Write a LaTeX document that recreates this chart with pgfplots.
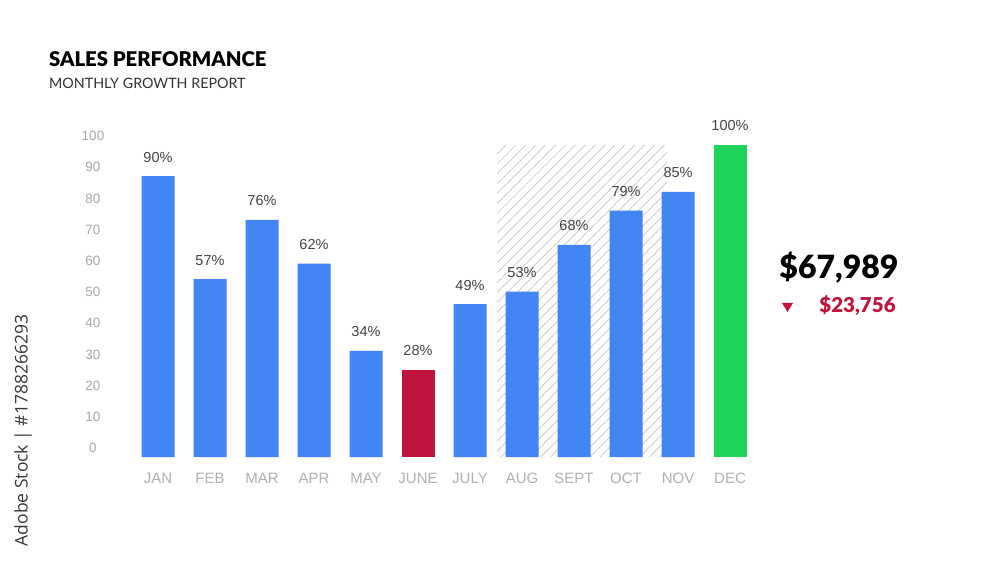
\documentclass[border=0pt]{standalone}
\usepackage{fontspec}
\setmainfont{Liberation Sans}
\IfFontExistsTF{Lato Black}{\newfontfamily\titlefont{Lato Black}}{\newfontfamily\titlefont{Lato}[UprightFont=*-Bold]}
\newfontfamily\subfont{Lato}
\newfontfamily\wmfont{Open Sans}
\usepackage{pgfplots}
\pgfplotsset{compat=1.18}
\usetikzlibrary{patterns.meta}
\definecolor{cblue}{HTML}{4285F4}
\definecolor{cred}{HTML}{C0143C}
\definecolor{cgreen}{HTML}{1ED45A}
\definecolor{tickgray}{HTML}{A8A8A8}
\definecolor{monthgray}{HTML}{B0B0B0}
\definecolor{pctgray}{HTML}{444444}
\begin{document}
\begin{tikzpicture}[x=1pt,y=1pt]
\path[use as bounding box, fill=white] (0,0) rectangle (1000,562);
\begin{axis}[
  at={(93pt,105pt)}, anchor=south west,
  scale only axis, width=663pt, height=312pt,
  xmin=-1.25, xmax=11.5, ymin=0, ymax=100,
  axis lines=none, clip=false,
  /pgf/number format/assume math mode=true,
  xtick={0,...,11},
  xticklabels={JAN,FEB,MAR,APR,MAY,JUNE,JULY,AUG,SEPT,OCT,NOV,DEC},
  ytick={0,10,...,100},
  hide x axis=false, hide y axis=false,
  axis line style={draw=none},
  major tick length=0pt,
  xticklabel style={anchor=center, yshift=-21pt, font=\fontsize{15}{17}\selectfont, text=monthgray},
  yticklabel style={anchor=center, yshift=9pt, font=\fontsize{13.5}{15}\selectfont, text=tickgray},
  every node near coord/.style={anchor=center, yshift=19pt, font=\fontsize{14.5}{16}\selectfont, text=pctgray},
  nodes near coords={\pgfmathprintnumber{\pgfplotspointmeta}\%},
]
\addplot[draw=none, pattern={Lines[angle=45, distance=7pt, line width=0.7pt]}, pattern color=gray!45, nodes near coords={}] coordinates {(6.52,0) (6.52,100) (9.79,100) (9.79,0)} \closedcycle;
\addplot[ybar, bar width=33pt, bar shift=0pt, fill=cblue, draw=none] coordinates {(0,90) (1,57) (2,76) (3,62) (4,34) (6,49) (7,53) (8,68) (9,79) (10,85)};
\addplot[ybar, bar width=33pt, bar shift=0pt, fill=cred, draw=none] coordinates {(5,28)};
\addplot[ybar, bar width=33pt, bar shift=0pt, fill=cgreen, draw=none] coordinates {(11,100)};
\end{axis}
\node[anchor=base west, inner sep=0pt, font=\titlefont\fontsize{20.3}{24}\selectfont] at (49,495.3) {SALES PERFORMANCE};
\node[anchor=base west, inner sep=0pt, font=\subfont\fontsize{14.3}{17}\selectfont, text=black!80] at (49,473.7) {MONTHLY GROWTH REPORT};
\node[anchor=center, inner sep=0pt, font=\titlefont\fontsize{32}{36}\selectfont] at (839,294) {\$67,989};
\node[anchor=center, inner sep=0pt, font=\titlefont\fontsize{20.5}{24}\selectfont, text=cred] at (857.5,256) {\$23,756};
\fill[cred] (782,259) -- (793,259) -- (787.5,250) -- cycle;
\node[rotate=90, anchor=center, inner sep=0pt, font=\wmfont\fontsize{17.5}{20}\selectfont, text=black!78] at (23,131.5) {Adobe Stock | \#1788266293};
\end{tikzpicture}
\end{document}
